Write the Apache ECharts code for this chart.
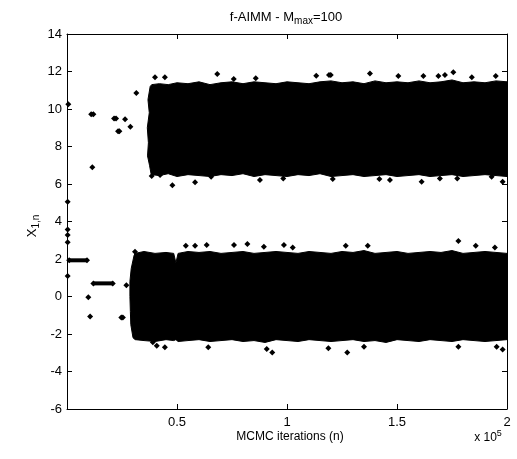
<!DOCTYPE html>
<html><head><meta charset="utf-8">
<script src="https://cdn.jsdelivr.net/npm/echarts@6/dist/echarts.min.js"></script>
<style>html,body{margin:0;padding:0;background:#fff}#c{width:517px;height:459px}</style>
</head><body><div id="c"></div>
<script>
// ---- axes ----
const xMin = 0, xMax = 200000, xStep = 50000;
const yMin = -6, yMax = 14, yStep = 2;
const xTickValues = [50000, 100000, 150000, 200000];
const xTickLabels = ['0.5', '1', '1.5', '2'];

// ---- dense upper cloud (outline) ----
const upperX = [38500, 42000, 46000, 50000, 55000, 60000, 65000, 70000, 75000, 80000, 85000, 90000, 95000, 100000, 105000, 110000, 115000, 120000, 125000, 130000, 135000, 140000, 145000, 150000, 155000, 160000, 165000, 170000, 175000, 180000, 185000, 190000, 195000, 200000];
const upperTop = [11.3, 11.35, 11.3, 11.4, 11.35, 11.45, 11.3, 11.4, 11.45, 11.35, 11.45, 11.4, 11.35, 11.45, 11.4, 11.35, 11.45, 11.5, 11.4, 11.45, 11.35, 11.5, 11.4, 11.45, 11.4, 11.5, 11.4, 11.45, 11.55, 11.4, 11.45, 11.4, 11.5, 11.45];
const upperBottom = [6.5, 6.45, 6.55, 6.4, 6.5, 6.45, 6.4, 6.5, 6.45, 6.55, 6.4, 6.5, 6.45, 6.4, 6.5, 6.45, 6.55, 6.4, 6.45, 6.5, 6.4, 6.45, 6.5, 6.4, 6.45, 6.5, 6.4, 6.45, 6.5, 6.4, 6.45, 6.5, 6.45, 6.4];
const upperLeftX = [37800, 36800, 37400, 36500, 37000, 36600, 37500, 38200];
const upperLeftY = [11.2, 10.5, 9.8, 9.0, 8.2, 7.5, 7.0, 6.55];

// ---- dense lower cloud ----
const lowerX = [31000, 35000, 40000, 45000, 48500, 49500, 50500, 55000, 60000, 65000, 70000, 75000, 80000, 85000, 90000, 95000, 100000, 105000, 110000, 115000, 120000, 125000, 130000, 135000, 140000, 145000, 150000, 155000, 160000, 165000, 170000, 175000, 180000, 185000, 190000, 195000, 200000];
const lowerTop = [2.3, 2.4, 2.3, 2.35, 2.3, 1.8, 2.3, 2.4, 2.35, 2.4, 2.3, 2.35, 2.4, 2.3, 2.35, 2.4, 2.35, 2.3, 2.4, 2.35, 2.3, 2.4, 2.35, 2.45, 2.3, 2.35, 2.4, 2.3, 2.35, 2.4, 2.35, 2.45, 2.3, 2.35, 2.4, 2.35, 2.3];
const lowerBottom = [-2.3, -2.35, -2.4, -2.3, -2.35, -2.3, -2.4, -2.35, -2.3, -2.4, -2.35, -2.3, -2.4, -2.35, -2.45, -2.3, -2.35, -2.4, -2.3, -2.35, -2.4, -2.35, -2.3, -2.4, -2.35, -2.45, -2.3, -2.35, -2.4, -2.3, -2.35, -2.4, -2.3, -2.35, -2.4, -2.35, -2.3];
const lowerLeftX = [30500, 29200, 28600, 28600, 28800, 29000, 30000];
const lowerLeftY = [2.2, 1.5, 0.8, 0.0, -0.8, -1.5, -2.2];

// ---- stuck (repeated) states: start iteration, end iteration, value ----
const stuckStart = [1000, 12000, 11000, 21400, 23200, 24700];
const stuckEnd   = [9100, 20800, 12000, 22300, 23800, 25400];
const stuckValue = [1.93, 0.70, 9.72, 9.50, 8.81, -1.12];

// ---- individual samples ----
const ptX = [600, 11500, 26400, 28800, 31500, 300, 300, 300, 300, 300, 9700, 10500, 27000,
  40000, 44500, 68300, 75800, 85800, 113300, 119100, 38500, 42300, 47900, 58200, 65500, 87700, 98300,
  119900, 137700, 150600, 162000, 168800, 171800, 175600, 184000, 194900, 120800, 142000, 146800, 161200, 169500, 177400, 193000, 198000,
  30900, 63500, 75900, 82000, 89500, 98600, 102600, 54000, 58200, 126700, 136700, 177900, 185800, 194500,
  39000, 40800, 44500, 64200, 90800, 93300, 118800, 127400, 135000, 177900, 195300, 198000];
const ptY = [10.25, 6.9, 9.45, 9.06, 10.85, 5.06, 3.58, 3.28, 2.9, 1.1, -0.04, -1.06, 0.6,
  11.69, 11.69, 11.87, 11.6, 11.64, 11.78, 11.81, 6.43, 6.48, 5.93, 6.09, 6.39, 6.21, 6.3,
  11.81, 11.9, 11.76, 11.76, 11.76, 11.81, 11.96, 11.69, 11.76, 6.27, 6.27, 6.21, 6.12, 6.3, 6.3, 6.39, 6.12,
  2.39, 2.75, 2.75, 2.8, 2.66, 2.75, 2.62, 2.71, 2.71, 2.71, 2.71, 2.96, 2.71, 2.62,
  -2.44, -2.62, -2.71, -2.71, -2.8, -2.98, -2.76, -2.98, -2.68, -2.68, -2.68, -2.82];

function bandPolygon(xs, top, bottom, leftX, leftY) {
  const pts = [];
  for (let i = 0; i < xs.length; i++) pts.push([xs[i], top[i]]);
  for (let i = xs.length - 1; i >= 0; i--) pts.push([xs[i], bottom[i]]);
  for (let i = leftX.length - 1; i >= 0; i--) pts.push([leftX[i], leftY[i]]);
  return pts;
}
const bands = [
  bandPolygon(upperX, upperTop, upperBottom, upperLeftX, upperLeftY),
  bandPolygon(lowerX, lowerTop, lowerBottom, lowerLeftX, lowerLeftY)
];

const FONT = 'Liberation Sans, Arial, Helvetica, sans-serif';
const chart = echarts.init(document.getElementById('c'), null, {renderer: 'canvas'});

const axisLine = {show: true, onZero: false, lineStyle: {color: '#000', width: 1}};
const tick = {show: true, inside: true, length: 5, lineStyle: {color: '#000'}};

const stuckSeries = stuckStart.map((s, i) => ({
  type: 'line', xAxisIndex: 0, yAxisIndex: 0,
  data: [[s, stuckValue[i]], [stuckEnd[i], stuckValue[i]]],
  symbol: 'diamond', symbolSize: 6, showSymbol: true,
  lineStyle: {color: '#000', width: 4, opacity: 1},
  itemStyle: {color: '#000', opacity: 1},
  silent: true, z: 3
}));

const option = {
  animation: false,
  backgroundColor: '#fff',
  grid: {left: 67, right: 10, top: 34, bottom: 50, containLabel: false},
  xAxis: [
    {type: 'value', position: 'bottom', min: xMin, max: xMax, interval: xStep,
     axisLine: axisLine, axisTick: tick, splitLine: {show: false},
     axisLabel: {color: '#000', fontSize: 13, fontFamily: FONT, margin: 7,
       formatter: v => { const k = xTickValues.indexOf(v); return k >= 0 ? xTickLabels[k] : ''; }}},
    {type: 'value', position: 'top', min: xMin, max: xMax, interval: xStep,
     axisLine: axisLine, axisTick: tick, splitLine: {show: false}, axisLabel: {show: false}}
  ],
  yAxis: [
    {type: 'value', position: 'left', min: yMin, max: yMax, interval: yStep,
     axisLine: axisLine, axisTick: tick, splitLine: {show: false},
     axisLabel: {color: '#000', fontSize: 13, fontFamily: FONT, margin: 5}},
    {type: 'value', position: 'right', min: yMin, max: yMax, interval: yStep,
     axisLine: axisLine, axisTick: tick, splitLine: {show: false}, axisLabel: {show: false}}
  ],
  series: [
    {type: 'custom', xAxisIndex: 0, yAxisIndex: 0, clip: true, silent: true, z: 2,
     data: [[100000, 9], [100000, 0]],
     renderItem: (params, api) => {
       const pts = bands[params.dataIndex].map(p => api.coord(p));
       return {type: 'polygon', shape: {points: pts}, style: {fill: '#000', stroke: '#000', lineWidth: 1}};
     }},
    ...stuckSeries,
    {type: 'scatter', xAxisIndex: 0, yAxisIndex: 0, symbol: 'diamond', symbolSize: 6,
     itemStyle: {color: '#000', opacity: 1}, silent: true, z: 4,
     data: ptX.map((x, i) => [x, ptY[i]])}
  ],
  graphic: [
    {type: 'text', x: 286, y: 17, style: {
      text: '{n|f-AIMM - M}{s|max}{n|=100}', align: 'center', verticalAlign: 'middle',
      rich: {n: {fontSize: 13, fontFamily: FONT, fill: '#000', lineHeight: 18, verticalAlign: 'middle'},
             s: {fontSize: 10, fontFamily: FONT, fill: '#000', lineHeight: 10, verticalAlign: 'bottom'}}}},
    {type: 'text', x: 290, y: 437, style: {
      text: 'MCMC iterations (n)', align: 'center', verticalAlign: 'middle',
      font: '12px ' + FONT, fill: '#000'}},
    {type: 'text', x: 488, y: 438, style: {
      text: '{n|x 10}{p|5}', align: 'center', verticalAlign: 'middle',
      rich: {n: {fontSize: 12, fontFamily: FONT, fill: '#000', lineHeight: 18, verticalAlign: 'middle'},
             p: {fontSize: 9, fontFamily: FONT, fill: '#000', lineHeight: 9, verticalAlign: 'top'}}}},
    {type: 'text', x: 32, y: 226, rotation: Math.PI / 2, style: {
      text: '{n|X}{s|1,n}', align: 'center', verticalAlign: 'middle',
      rich: {n: {fontSize: 13, fontFamily: FONT, fill: '#000', lineHeight: 18, verticalAlign: 'middle'},
             s: {fontSize: 10, fontFamily: FONT, fill: '#000', lineHeight: 10, verticalAlign: 'bottom'}}}}
  ]
};
chart.setOption(option);
</script>
</body></html>
